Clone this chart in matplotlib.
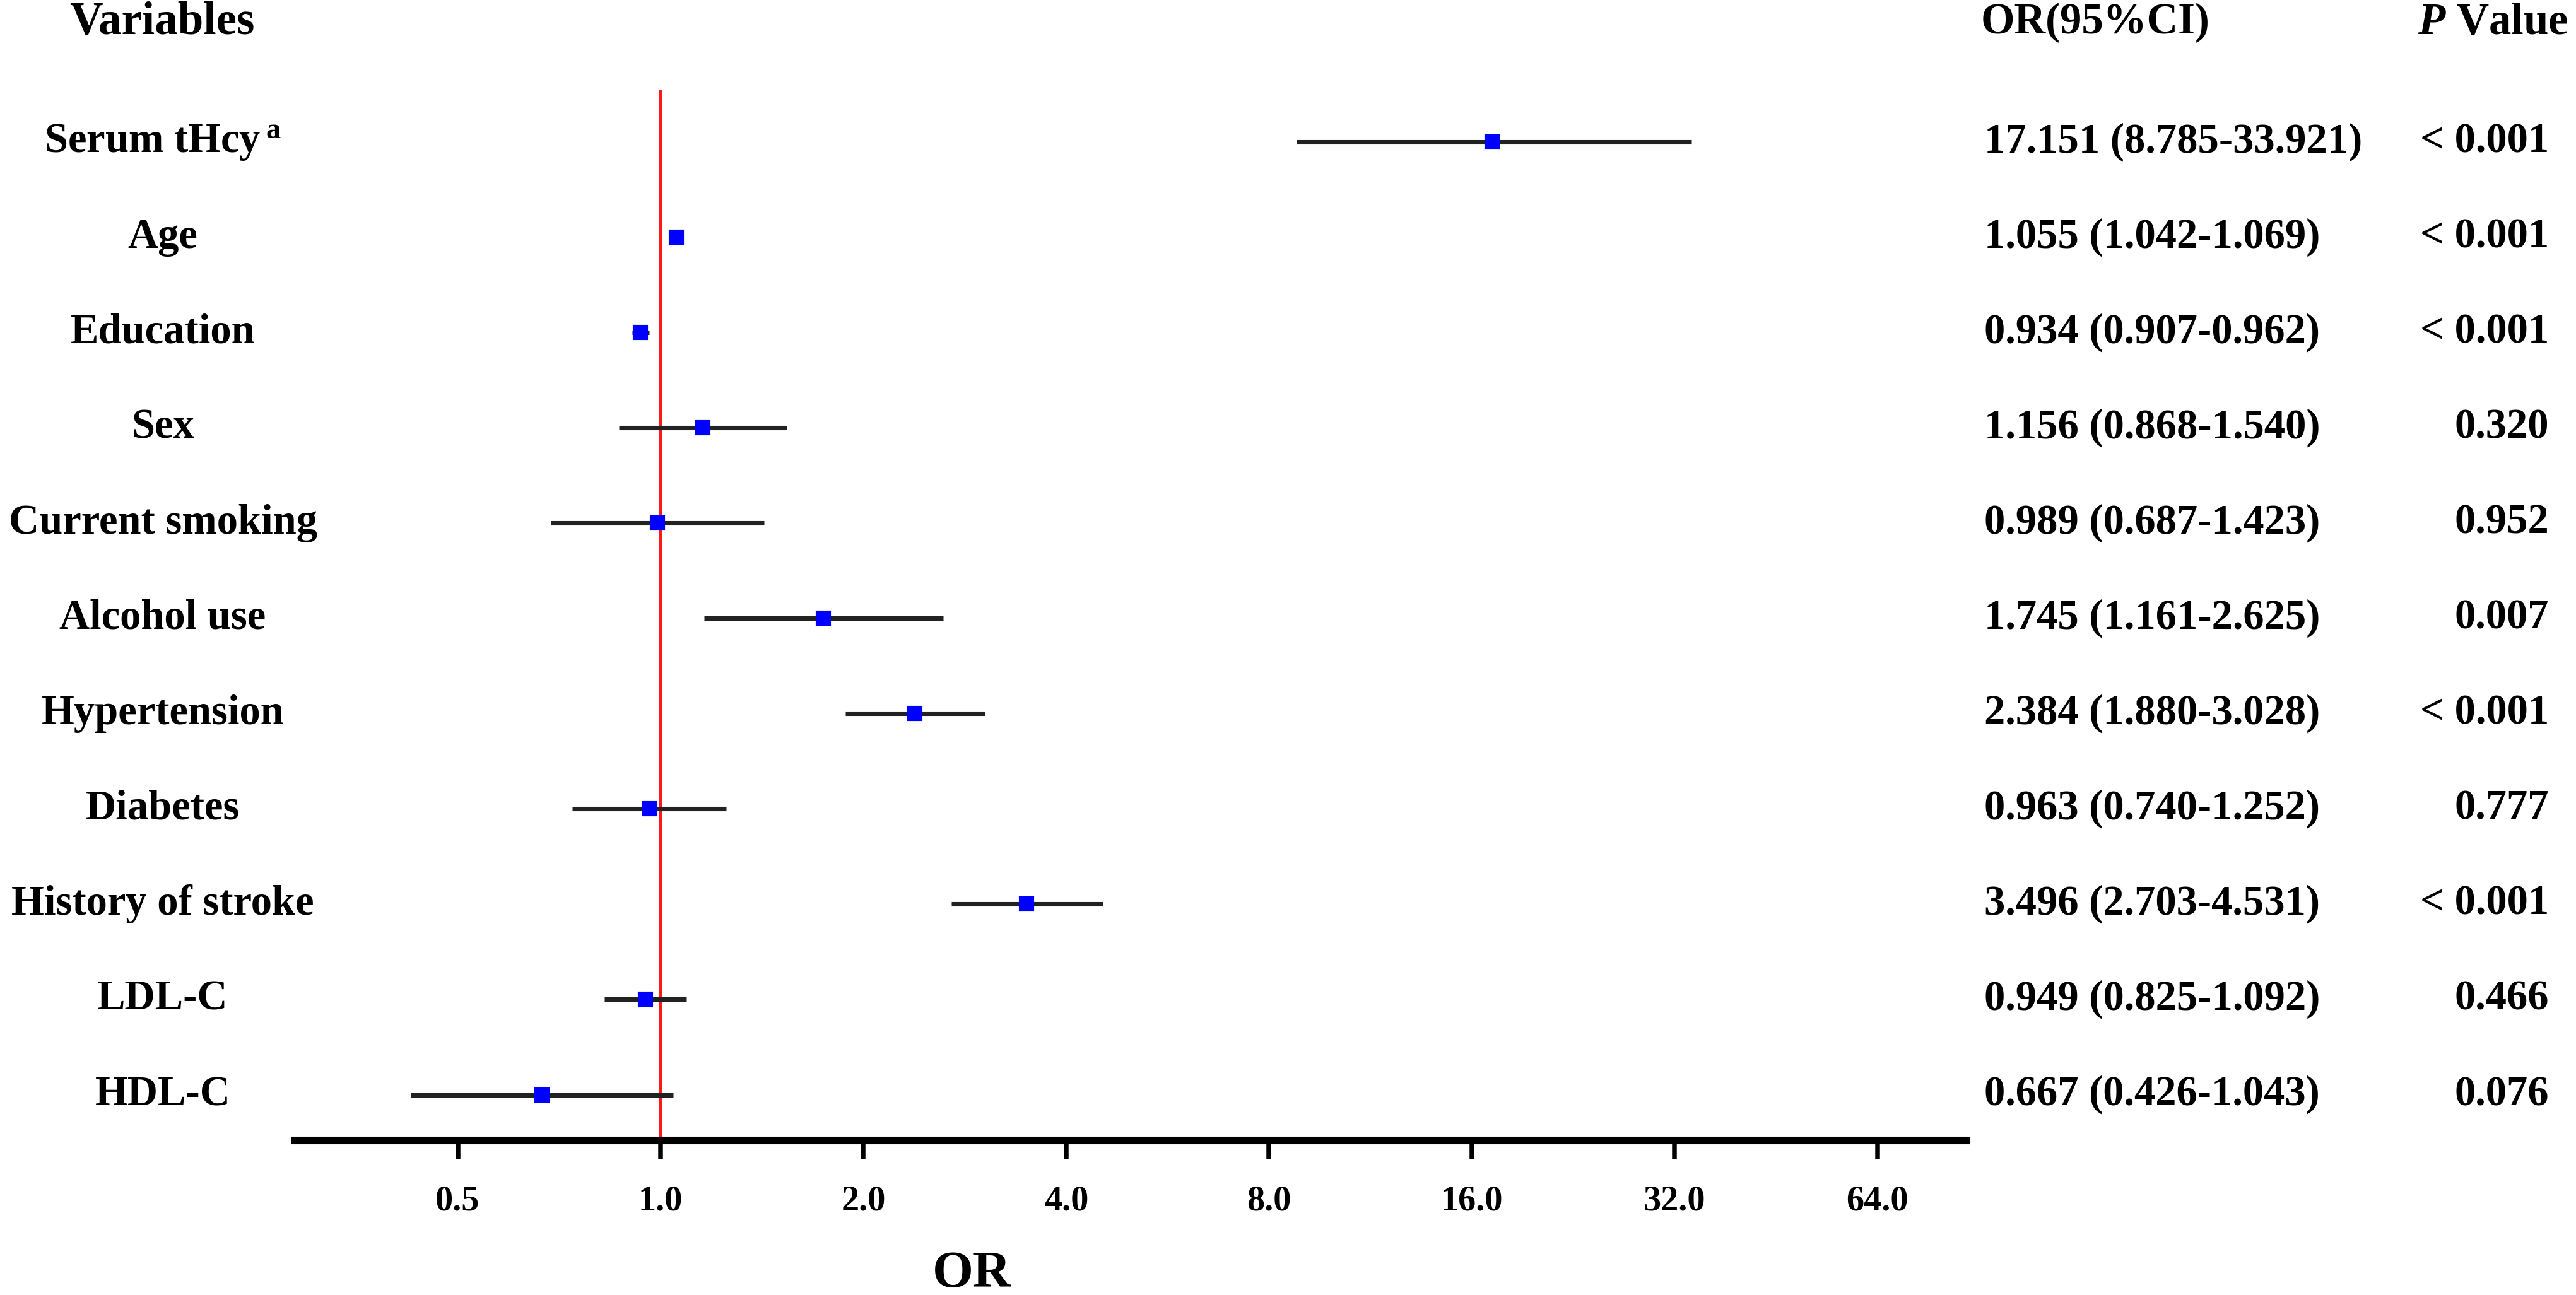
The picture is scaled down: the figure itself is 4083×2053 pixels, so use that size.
import matplotlib
matplotlib.use("Agg")
import matplotlib.pyplot as plt
import matplotlib.transforms as mtransforms
import numpy as np

plt.rcParams['font.family'] = ['Liberation Serif', 'DejaVu Serif']
plt.rcParams['font.weight'] = 'bold'
plt.rcParams['mathtext.fontset'] = 'custom'
plt.rcParams['mathtext.rm'] = 'Liberation Serif:bold'
plt.rcParams['mathtext.it'] = 'Liberation Serif:italic:bold'
plt.rcParams['mathtext.bf'] = 'Liberation Serif:bold'

variables = ["Serum tHcy$\\,^{\\mathrm{a}}$", "Age", "Education", "Sex", "Current smoking",
             "Alcohol use", "Hypertension", "Diabetes", "History of stroke",
             "LDL-C", "HDL-C"]
or_vals = [17.151, 1.055, 0.934, 1.156, 0.989, 1.745, 2.384, 0.963, 3.496, 0.949, 0.667]
ci_low = [8.785, 1.042, 0.907, 0.868, 0.687, 1.161, 1.880, 0.740, 2.703, 0.825, 0.426]
ci_high = [33.921, 1.069, 0.962, 1.540, 1.423, 2.625, 3.028, 1.252, 4.531, 1.092, 1.043]
p_values = ["< 0.001", "< 0.001", "< 0.001", "0.320", "0.952", "0.007", "< 0.001",
            "0.777", "< 0.001", "0.466", "0.076"]
or_ci_text = ["17.151 (8.785-33.921)", "1.055 (1.042-1.069)", "0.934 (0.907-0.962)",
              "1.156 (0.868-1.540)", "0.989 (0.687-1.423)", "1.745 (1.161-2.625)",
              "2.384 (1.880-3.028)", "0.963 (0.740-1.252)", "3.496 (2.703-4.531)",
              "0.949 (0.825-1.092)", "0.667 (0.426-1.043)"]
xticks = [0.5, 1.0, 2.0, 4.0, 8.0, 16.0, 32.0, 64.0]
xtick_labels = ["0.5", "1.0", "2.0", "4.0", "8.0", "16.0", "32.0", "64.0"]

W, H, DPI = 4083, 2053, 300
fig = plt.figure(figsize=(W / DPI, H / DPI), dpi=DPI)
ax = fig.add_axes([468 / W, 1 - 1808 / H, (3117 - 468) / W, (1808 - 143) / H])

n = len(variables)
ypos = np.arange(n, 0, -1)

ax.set_xscale('log', base=2)
ax.set_xlim(2 ** -1.801, 2 ** 6.439)
ax.set_ylim(0.52, n + 0.545)

ax.axvline(1.0, color='#ff1a1a', lw=1.35, zorder=1)
ax.hlines(ypos, ci_low, ci_high, color='#222222', lw=1.7, zorder=2)
ax.plot(or_vals, ypos, linestyle='none', marker='s', color='#0000ff',
        markersize=5, zorder=3)

for s in ['top', 'left', 'right']:
    ax.spines[s].set_visible(False)
ax.spines['bottom'].set_linewidth(2.9)
ax.set_yticks([])
ax.set_xticks(xticks)
ax.set_xticklabels(xtick_labels, fontsize=13.5, fontweight='bold')
ax.xaxis.set_minor_locator(matplotlib.ticker.NullLocator())
ax.tick_params(axis='x', direction='out', length=7, width=1.8, pad=10)

trans = mtransforms.blended_transform_factory(fig.transFigure, ax.transData)
for i in range(n):
    fig.text(258 / W, ypos[i], variables[i], transform=trans, ha='center', va='center',
             fontsize=16, fontweight='bold')
    fig.text(3145 / W, ypos[i], or_ci_text[i], transform=trans, ha='left', va='center',
             fontsize=16, fontweight='bold')
    fig.text(4040 / W, ypos[i], p_values[i], transform=trans, ha='right', va='center',
             fontsize=16, fontweight='bold')

hy = 1 - 36 / H
fig.text(110 / W, hy, "Variables", ha='left', va='center', fontsize=17.5, fontweight='bold')
fig.text(3140 / W, hy, "OR(95%CI)", ha='left', va='center', fontsize=16.5, fontweight='bold')
fig.text(3832 / W, hy, "$\\mathit{P}$ Value", ha='left', va='center', fontsize=17,
         fontweight='bold')
fig.text(1540 / W, 1 - 2020 / H, "OR", ha='center', va='center', fontsize=20,
         fontweight='bold')

fig.savefig("out.png", dpi=DPI, facecolor='white')
